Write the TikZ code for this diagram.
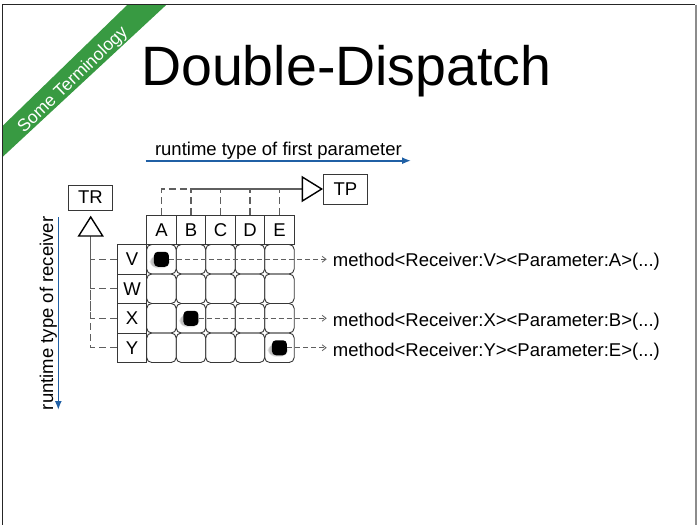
\documentclass[tikz,border=0pt]{standalone}
\usepackage{fontspec}
\setmainfont{Liberation Sans}
\usetikzlibrary{arrows.meta,calc}

\definecolor{slideblue}{RGB}{32,96,165}
\definecolor{bannergreen}{RGB}{56,154,66}
\definecolor{gridline}{RGB}{55,55,55}
\definecolor{connector}{RGB}{95,95,95}

\begin{document}
\begin{tikzpicture}[x=1pt,y=-1pt,
  lbl/.style={font=\fontsize{18.5}{20}\selectfont},
  boxcell/.style={draw=gridline, line width=0.9pt, minimum width=29.5pt,
    minimum height=29.5pt, inner sep=0pt, lbl},
  datacell/.style={boxcell, rounded corners=5pt},
  dotmark/.style={fill=black, rounded corners=4pt, minimum size=15pt, inner sep=0pt},
  gen/.style={draw=connector, line width=1.1pt, dash pattern=on 7pt off 4pt},
  call/.style={draw=connector, line width=0.8pt, dash pattern=on 5pt off 3pt,
    -{Straight Barb[length=4pt,width=6pt]}, shorten >=6pt},
  typebox/.style={draw=gridline, line width=0.9pt, inner sep=0pt, lbl},
  opentri/.style={draw=black, line width=1.4pt, fill=white, line join=miter},
  axis/.style={draw=slideblue, line width=1.6pt, -{Latex[length=9pt,width=7pt]}},
  caption/.style={font=\fontsize{18.5}{20}\selectfont, inner sep=0pt},
  method/.style={caption, anchor=base west}]

\useasboundingbox (0,0) rectangle (697,525);
\fill[white] (0,0) rectangle (697,525);

% corner banner
\fill[bannergreen] (2.5,126) -- (127.7,4.5) -- (166.7,4.5) -- (2.5,157) -- cycle;
\node[font=\fontsize{17.5}{18}\selectfont, text=white, rotate=44, inner sep=0pt,
  anchor=base west] (banner) at (24,134) {Some Terminology};

% slide frame
\draw[line width=1.5pt, black!85] (2.5,525) -- (2.5,4.5) -- (695,4.5);
\draw[line width=1.5pt, black!45] (696,4.5) -- (696,525);

% title
\node[anchor=base west, inner sep=0pt, font=\fontsize{55.5}{60}\selectfont]
  (title) at (141,85) {Double-Dispatch};

% axes
\node[caption, anchor=base] (ptype) at (278.4,155) {runtime type of first parameter};
\coordinate (hx0) at (145.7,160.7);
\coordinate (hx1) at (411,160.7);
\draw[axis] (hx0) -- (hx1);

\node[caption, anchor=base, rotate=90] (rtype) at (53,313.4) {runtime type of receiver};
\coordinate (vy0) at (58.3,217);
\coordinate (vy1) at (58.3,410);
\draw[axis] (vy0) -- (vy1);

% type boxes
\node[typebox, minimum width=44.4pt, minimum height=25pt] (TR) at (90.5,197.5) {TR};
\node[typebox, minimum width=43.3pt, minimum height=29.3pt] (TP) at (345.4,189.4) {TP};

% dispatch table
\foreach \c [count=\i from 0] in {A,B,C,D,E}
  \node[boxcell] (h\c) at ({161.45+29.5*\i},229.75) {\c};
\foreach \r [count=\j from 0] in {V,W,X,Y} {
  \node[boxcell] (r\r) at (132,{259.25+29.5*\j}) {\r};
  \foreach \c [count=\i from 0] in {A,B,C,D,E}
    \node[datacell] (c\r\c) at ({161.45+29.5*\i},{259.25+29.5*\j}) {};
}

% inheritance connectors
\coordinate (trBase) at (90.7,236);
\coordinate (tpBase) at (302.3,189);
\foreach \r in {V,W,X,Y}
  \draw[gen] (r\r.west) -| (trBase);
\foreach \c in {A,B,C,D,E}
  \draw[gen] (h\c.north) |- (tpBase);
\draw[opentri] (78.7,236) -- (90.7,217) -- (102.7,236) -- cycle;
\draw[opentri] (302.3,177) -- (321.7,189) -- (302.3,201) -- cycle;

% selected entries
\foreach \r/\c in {V/A,X/B,Y/E} {
  \foreach \s in {1,2,3}
    \fill[black, opacity=0.09, rounded corners=5pt]
      ($(c\r\c)+(-9-\s,-5+\s)$) rectangle ($(c\r\c)+(6+\s,10-\s)$);
  \node[dotmark] (d\r\c) at (c\r\c) {};
}

% resulting methods
\node[method] (mV) at (332.7,266.7) {method<Receiver:V><Parameter:A>(...)};
\node[method] (mX) at (332.7,326.6) {method<Receiver:X><Parameter:B>(...)};
\node[method] (mY) at (332.7,356.2) {method<Receiver:Y><Parameter:E>(...)};
\draw[call] (dVA.east) -- (dVA.east -| mV.west);
\draw[call] (dXB.east) -- (dXB.east -| mX.west);
\draw[call] (dYE.east) -- (dYE.east -| mY.west);
\end{tikzpicture}
\end{document}
